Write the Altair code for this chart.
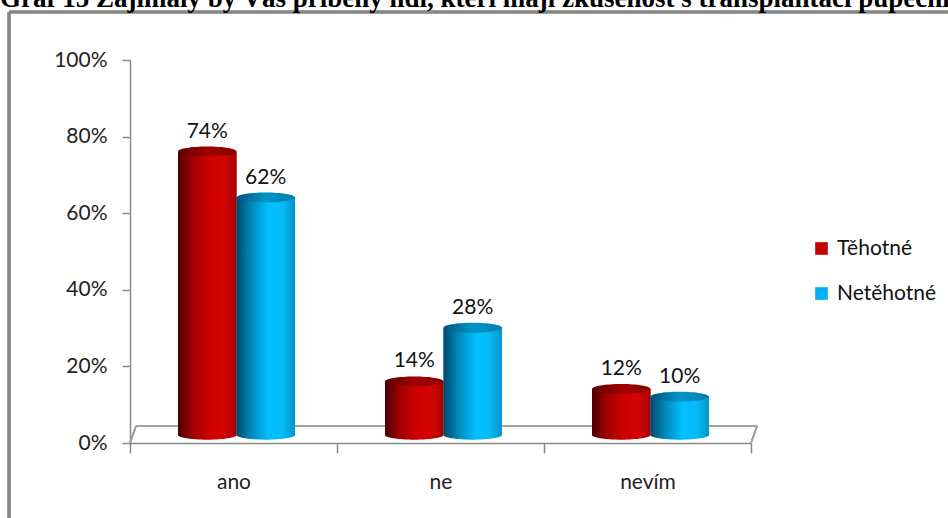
import altair as alt
import pandas as pd

# --- data -------------------------------------------------------------
categories = ["ano", "ne", "nevím"]
series = ["Těhotné", "Netěhotné"]
tehotne = [74, 14, 12]
netehotne = [62, 28, 10]
y_ticks = [0, 20, 40, 60, 80, 100]
title_text = ("Graf 15 Zajímaly by Vás příběhy lidí, kteří mají zkušenost "
              "s transplantací pupečníkové krve?")

rows = []
for cat, a, b in zip(categories, tehotne, netehotne):
    rows.append({"kat": cat, "serie": series[0], "hodnota": a})
    rows.append({"kat": cat, "serie": series[1], "hodnota": b})
df = pd.DataFrame(rows)

# --- layout -----------------------------------------------------------
W, H = 621, 383           # plot area
PAD_L, PAD_T = 130, 60
PAIR_PAD = 0.77           # outer padding of the pair inside each category
PAIR_ALIGN = 0.533        # pair sits a little right (3D depth)
DEPTH_X, DEPTH_Y = 6, 17  # 3D floor depth
LIFT = 8                  # cylinders stand in the middle of the floor
bar_w = W / 3 / (2 + 2 * PAIR_PAD)
FONT = "Lato"
FS = 21


def ellipse_path(k):
    c = 0.5523
    return (f"M -1 0 C -1 {-c*k} {-c} {-k} 0 {-k} "
            f"C {c} {-k} 1 {-c*k} 1 0 "
            f"C 1 {c*k} {c} {k} 0 {k} "
            f"C {-c} {k} -1 {c*k} -1 0 Z")


def hgrad(stops):
    return {"gradient": "linear", "x1": 0, "x2": 1, "y1": 0, "y2": 0,
            "stops": [{"offset": o, "color": c} for o, c in stops]}


red_body = hgrad([(0, "#4a0000"), (0.25, "#a00000"), (0.55, "#d00000"),
                  (0.78, "#d40404"), (1, "#a80000")])
blue_body = hgrad([(0, "#00496b"), (0.25, "#0088b8"), (0.55, "#00c0ff"),
                   (0.78, "#08bdf8"), (1, "#0094cc")])
red_cap = hgrad([(0, "#5c0000"), (0.5, "#a20000"), (1, "#8c0000")])
blue_cap = hgrad([(0, "#005478"), (0.5, "#0094c8"), (1, "#007fb0")])

is_red = alt.datum.serie == series[0]

x_enc = alt.X("kat:N", sort=categories,
              scale=alt.Scale(domain=categories, paddingInner=0,
                              paddingOuter=0),
              axis=alt.Axis(title=None, tickBand="extent", labelAngle=0,
                            tickSize=10, labelPadding=18, labelFontSize=FS,
                            labelFont=FONT, labelColor="#222222",
                            domainColor="#8a8a8a", tickColor="#8a8a8a",
                            domainWidth=1.5, tickWidth=1.5))
xo_enc = alt.XOffset("serie:N", sort=series,
                     scale=alt.Scale(domain=series, paddingInner=0,
                                     paddingOuter=PAIR_PAD,
                                     align=PAIR_ALIGN))
y_scale = alt.Scale(domain=[0, 100], nice=False)
y_enc = alt.Y("hodnota:Q", scale=y_scale,
              axis=alt.Axis(title=None, values=y_ticks, grid=False,
                            labelExpr="datum.value + '%'", tickSize=8,
                            labelPadding=15, labelFontSize=FS, labelFont=FONT,
                            labelColor="#222222", domainColor="#8a8a8a",
                            tickColor="#8a8a8a", domainWidth=1.5,
                            tickWidth=1.5))

base = alt.Chart(df)

# flat bars carry the legend; the shaded cylinders are drawn on top
legend_bars = base.mark_bar(yOffset=-LIFT, y2Offset=-LIFT).encode(
    x=x_enc, xOffset=xo_enc, y=y_enc, y2=alt.datum(0),
    color=alt.Color("serie:N", sort=series,
                    scale=alt.Scale(domain=series,
                                    range=["#c00000", "#00b0f0"]),
                    legend=alt.Legend(title=None, orient="none",
                                      legendX=681, legendY=178,
                                      symbolType="square", symbolSize=160,
                                      symbolStrokeWidth=0, rowPadding=23,
                                      labelFont=FONT, labelFontSize=FS,
                                      labelColor="#111111", padding=0,
                                      labelOffset=5)),
)

bottoms = base.mark_point(shape=ellipse_path(0.16), filled=True, opacity=1,
                          size=bar_w ** 2, yOffset=-LIFT).encode(
    x=x_enc, xOffset=xo_enc, y=alt.datum(0, scale=y_scale),
    color=alt.when(is_red).then(alt.value(red_body))
             .otherwise(alt.value(blue_body)),
)

bodies = base.mark_bar(yOffset=-LIFT, y2Offset=-LIFT).encode(
    x=x_enc, xOffset=xo_enc, y=y_enc, y2=alt.datum(0),
    color=alt.when(is_red).then(alt.value(red_body))
             .otherwise(alt.value(blue_body)),
)

caps = base.mark_point(shape=ellipse_path(0.17), filled=True, opacity=1,
                       size=bar_w ** 2, yOffset=-LIFT).encode(
    x=x_enc, xOffset=xo_enc, y=y_enc,
    color=alt.when(is_red).then(alt.value(red_cap))
             .otherwise(alt.value(blue_cap)),
)

labels = base.transform_calculate(
    txt="datum.hodnota + '%'"
).mark_text(font=FONT, fontSize=FS, color="#111111",
            baseline="alphabetic", dy=-22).encode(
    x=x_enc, xOffset=xo_enc, y=y_enc, text="txt:N",
)

# 3D floor outline
floor_style = dict(color="#a3a3a3", strokeWidth=1.5)
floor_top = base.mark_rule(**floor_style).encode(
    x=alt.value(DEPTH_X), x2=alt.value(W + DEPTH_X),
    y=alt.value(H - DEPTH_Y))
floor_left = base.mark_rule(**floor_style).encode(
    x=alt.value(0), x2=alt.value(DEPTH_X),
    y=alt.value(H), y2=alt.value(H - DEPTH_Y))
floor_right = base.mark_rule(**floor_style).encode(
    x=alt.value(W), x2=alt.value(W + DEPTH_X),
    y=alt.value(H), y2=alt.value(H - DEPTH_Y))

# outer frame (left and top edges) and the caption above it
frame_style = dict(color="#878787", strokeWidth=2.5)
frame_left = base.mark_rule(**frame_style).encode(
    x=alt.value(9 - PAD_L), y=alt.value(12 - PAD_T), y2=alt.value(600))
frame_top = base.mark_rule(**frame_style).encode(
    x=alt.value(9 - PAD_L), x2=alt.value(1000), y=alt.value(12 - PAD_T))
caption = alt.Chart(pd.DataFrame({"t": [title_text]})).mark_text(
    font="Liberation Serif", fontSize=27, fontWeight="bold", align="left",
    baseline="alphabetic", color="#000000").encode(
    x=alt.value(-PAD_L), y=alt.value(7 - PAD_T), text="t:N")

chart = alt.layer(
    floor_top, floor_left, floor_right,
    legend_bars, bottoms, bodies, caps, labels,
    frame_left, frame_top, caption,
).properties(
    width=W, height=H,
    autosize=alt.AutoSizeParams(type="none"),
    padding={"left": PAD_L, "top": PAD_T, "right": 948 - PAD_L - W,
             "bottom": 518 - PAD_T - H},
    background="white",
).configure_view(stroke=None)

chart.save("out.html", embed_options={"renderer": "svg", "actions": False})
